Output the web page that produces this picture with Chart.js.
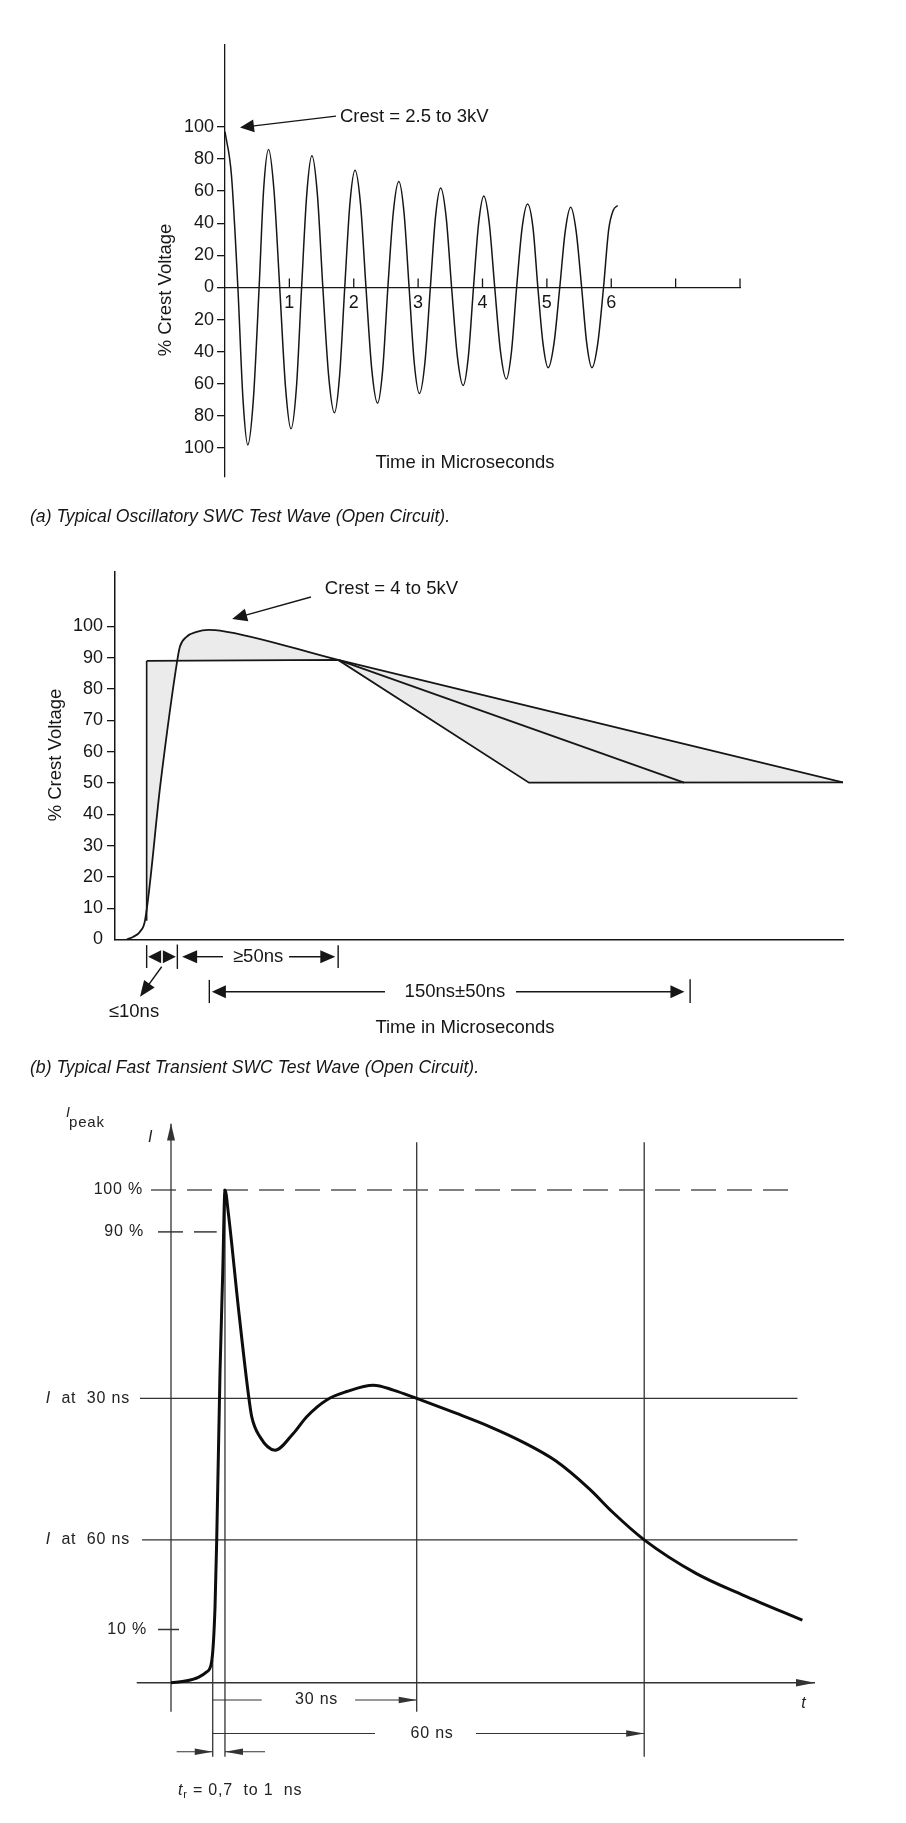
<!DOCTYPE html>
<html><head><meta charset="utf-8">
<script src="https://cdn.jsdelivr.net/npm/chart.js@4.4.1/dist/chart.umd.min.js"></script>
<style>
html,body{margin:0;padding:0;background:#fff;width:906px;height:1823px;overflow:hidden}
canvas{position:absolute;left:0}
#c1{top:0}#c2{top:540px}#c3{top:1080px}
</style></head><body>
<canvas id="c1" width="906" height="540"></canvas>
<canvas id="c2" width="906" height="540"></canvas>
<canvas id="c3" width="906" height="743"></canvas>
<script>
// ================= DATA =================
// (a) Typical oscillatory SWC test wave: time (µs) vs % crest voltage
const oscTime = [0, 0.10, 0.20, 0.28, 0.354, 0.44, 0.53, 0.60, 0.677, 0.76, 0.85, 0.94, 1.025, 1.11, 1.19, 1.27, 1.35, 1.435, 1.52, 1.61, 1.70, 1.78, 1.86, 1.94, 2.02, 2.105, 2.19, 2.28, 2.37, 2.45, 2.53, 2.615, 2.70, 2.78, 2.86, 2.94, 3.02, 3.105, 3.19, 3.27, 3.35, 3.435, 3.52, 3.61, 3.70, 3.78, 3.86, 3.94, 4.02, 4.105, 4.19, 4.28, 4.37, 4.45, 4.53, 4.615, 4.70, 4.785, 4.86, 4.94, 5.02, 5.11, 5.20, 5.285, 5.37, 5.455, 5.54, 5.62, 5.70, 5.79, 5.88, 5.96, 6.03, 6.10];
const oscVoltage = [97, 70, 0, -70, -98, -70, 0, 61, 86, 61, 0, -62, -88, -62, 0, 58, 82, 58, 0, -55, -78, -55, 0, 52, 73, 52, 0, -51, -72, -51, 0, 47, 66, 47, 0, -47, -66, -47, 0, 44, 62, 44, 0, -43, -61, -43, 0, 40, 57, 40, 0, -40, -57, -40, 0, 37, 52, 37, 0, -35, -50, -35, 0, 35, 50, 35, 0, -35, -50, -35, 0, 36, 48, 51];
const oscXTicks = [1, 2, 3, 4, 5, 6, 7, 8];
const oscXTickLabels = ['1', '2', '3', '4', '5', '6', '', ''];
const oscYTicks = [-100, -80, -60, -40, -20, 0, 20, 40, 60, 80, 100];

// (b) Typical fast transient SWC test wave: time (ns) vs % crest voltage
const fastWaveTime    = [3.7, 5.8, 7.9, 9.5, 14.4, 19.7, 20.5, 22.6, 25.8, 29.5, 33.2, 70.5, 230];
const fastWaveVoltage = [0, 0.9, 2.5, 6.2, 50, 89.3, 93.5, 96.7, 98.3, 98.9, 98.7, 89.3, 50.2];
const fastEnvTime     = [10, 70.5, 130.8, 230];
const fastEnvVoltage  = [89, 89.3, 50.1, 50.2];
const fastMidTime     = [70.5, 179.8];
const fastMidVoltage  = [89.3, 50.1];
const fastEdgeTime    = [10, 10];
const fastEdgeVoltage = [6, 89];
const fastYTicks = [0, 10, 20, 30, 40, 50, 60, 70, 80, 90, 100];

// (c) ESD current waveform: time (ns) vs % of I peak
const espTime    = [0, 2.24, 3.9, 5.1, 5.81, 6.29, 6.53, 7.0, 7.39, 7.71, 8.19, 9.61, 11.04, 11.53, 12.71, 14.86, 17.47, 19.39, 22.24, 25.1, 28.9, 31.76, 35.1, 40.7, 45.5, 50.2, 55.0, 59.8, 63.1, 67.6, 75.0, 81.7, 90.2];
const espCurrent = [0, 0.4, 1.1, 2.2, 4.3, 15.4, 29.0, 62.9, 83.2, 100, 95.3, 76.3, 58.7, 54.0, 49.9, 47.2, 50.6, 54.0, 57.4, 59.1, 60.4, 59.4, 57.7, 54.7, 52.0, 48.9, 45.0, 39.3, 34.6, 29.0, 22.2, 17.8, 12.7];
const espLevelValues = [100, 91.5, 57.7, 29.0, 10.8];
const espLevelLabels = [[{t:'100 %'}], [{t:'90 %'}], [{t:'I', i:true}, {t:'  at  30 ns'}], [{t:'I', i:true}, {t:'  at  60 ns'}], [{t:'10 %'}]];
const espMarkerTimes = [5.96, 7.71, 35.1, 67.6]; // 10 % point, peak, 30 ns, 60 ns

// ================= STYLE / HELPERS =================
const FONT = '"Liberation Sans", "Helvetica Neue", Helvetica, Arial, sans-serif';
const INK = '#161616';
const GREY = '#333';
Chart.defaults.font.family = FONT;
Chart.defaults.color = INK;

const xy = (xs, ys) => xs.map((x, i) => ({x, y: ys[i]}));

function txt(ctx, s, px, py, o = {}) {
  ctx.font = `${o.italic ? 'italic ' : ''}${o.size || 18.5}px ${FONT}`;
  ctx.textAlign = o.align || 'left';
  ctx.textBaseline = 'middle';
  ctx.fillStyle = o.color || INK;
  ctx.fillText(s, px, py);
}
function rich(ctx, parts, px, py, align, size, color) {
  ctx.textAlign = 'left'; ctx.textBaseline = 'middle'; ctx.fillStyle = color;
  const w = parts.map(p => { ctx.font = `${p.i ? 'italic ' : ''}${p.s || size}px ${FONT}`; return ctx.measureText(p.t).width; });
  const tot = w.reduce((a, b) => a + b, 0);
  let cx = align === 'right' ? px - tot : align === 'center' ? px - tot / 2 : px;
  parts.forEach((p, k) => { ctx.font = `${p.i ? 'italic ' : ''}${p.s || size}px ${FONT}`; ctx.fillText(p.t, cx, py + (p.dy || 0)); cx += w[k]; });
}
function head(ctx, tx, ty, fx, fy, len, half) {
  const a = Math.atan2(ty - fy, tx - fx), c = Math.cos(a), s = Math.sin(a);
  ctx.beginPath();
  ctx.moveTo(tx, ty);
  ctx.lineTo(tx - len * c + half * s, ty - len * s - half * c);
  ctx.lineTo(tx - len * c - half * s, ty - len * s + half * c);
  ctx.closePath(); ctx.fill();
}
function arrow(ctx, fx, fy, tx, ty, len, half) {
  const a = Math.atan2(ty - fy, tx - fx);
  ctx.beginPath(); ctx.moveTo(fx, fy); ctx.lineTo(tx - len * 0.7 * Math.cos(a), ty - len * 0.7 * Math.sin(a)); ctx.stroke();
  head(ctx, tx, ty, fx, fy, len, half);
}
function line(ctx, x1, y1, x2, y2) { ctx.beginPath(); ctx.moveTo(x1, y1); ctx.lineTo(x2, y2); ctx.stroke(); }

const baseOpts = {responsive: false, animation: false, devicePixelRatio: 1, events: []};
const noLegend = {legend: {display: false}, tooltip: {enabled: false}};

// ================= CHART (a) =================
const annA = {arrowFrom: [1.724, 106.7], arrowTip: [0.233, 99.6], textAt: [1.786, 106.0], label: 'Crest = 2.5 to 3kV',
  yTitle: {x: 166, y: 290}, xTitle: {x: 465, y: 463}, caption: {x: 30, y: 517}};
new Chart(document.getElementById('c1'), {
  type: 'line',
  data: {datasets: [{data: xy(oscTime, oscVoltage), borderColor: INK, borderWidth: 1.5, pointRadius: 0, cubicInterpolationMode: 'monotone', fill: false}]},
  options: {...baseOpts,
    layout: {padding: {left: 0, top: 45, right: 166, bottom: 63}},
    plugins: noLegend,
    scales: {
      x: {type: 'linear', min: 0, max: 8, position: {y: 0},
        afterBuildTicks: s => { s.ticks = oscXTicks.map(v => ({value: v})); },
        ticks: {callback: (v, i) => oscXTickLabels[i], font: {size: 18}, color: INK, padding: 5, maxRotation: 0, autoSkip: false},
        grid: {drawOnChartArea: false, drawTicks: false},
        border: {display: true, color: INK, width: 1.3}},
      y: {type: 'linear', min: -118, max: 151, position: 'left',
        afterFit: s => { s.width = 225; },
        afterBuildTicks: s => { s.ticks = oscYTicks.map(v => ({value: v})); },
        ticks: {callback: v => String(Math.abs(v)), font: {size: 18}, color: INK, padding: 3, autoSkip: false},
        grid: {drawOnChartArea: false, drawTicks: true, tickLength: 8, color: INK, lineWidth: 1.3},
        border: {display: true, color: INK, width: 1.3}}
    }
  },
  plugins: [{id: 'annA', afterDraw(chart) {
    const {ctx, scales: {x, y}} = chart;
    ctx.save();
    ctx.strokeStyle = INK; ctx.fillStyle = INK; ctx.lineWidth = 1.3;
    oscXTicks.forEach(v => line(ctx, x.getPixelForValue(v), y.getPixelForValue(0), x.getPixelForValue(v), y.getPixelForValue(0) - 9));
    arrow(ctx, x.getPixelForValue(annA.arrowFrom[0]), y.getPixelForValue(annA.arrowFrom[1]), x.getPixelForValue(annA.arrowTip[0]), y.getPixelForValue(annA.arrowTip[1]), 14, 6.5);
    txt(ctx, annA.label, x.getPixelForValue(annA.textAt[0]), y.getPixelForValue(annA.textAt[1]));
    txt(ctx, 'Time in Microseconds', annA.xTitle.x, annA.xTitle.y, {align: 'center'});
    ctx.save(); ctx.translate(annA.yTitle.x, annA.yTitle.y); ctx.rotate(-Math.PI / 2);
    txt(ctx, '% Crest Voltage', 0, 0, {align: 'center'}); ctx.restore();
    txt(ctx, '(a) Typical Oscillatory SWC Test Wave (Open Circuit).', annA.caption.x, annA.caption.y, {italic: true, size: 17.6});
    ctx.restore();
  }}]
});

// ================= CHART (b) =================
const annB = {arrowFrom: [61.9, 109.4], arrowTip: [37.0, 102.4], textAt: [66.3, 112.0], label: 'Crest = 4 to 5kV',
  bars: [[10.0, -1.8, -9.1], [19.7, -1.6, -9.4], [70.5, -1.8, -9.1], [29.8, -12.9, -20.3], [181.7, -12.7, -20.3]],
  dimY: -5.5, tenMid: 14.75, fiftyLeft: [21.2, 34.1], fiftyText: 45.2, fiftyRight: [55.0, 69.6],
  pointerFrom: [14.75, -8.7], pointerTip: [7.9, -18.3], tenText: [6.0, -23.1],
  longY: -16.7, longLeft: [85.3, 30.6], longText: 107.4, longRight: [126.7, 179.9],
  yTitle: {x: 56, y: 215}, xTitle: {x: 465, y: 488}, caption: {x: 30, y: 528}};
new Chart(document.getElementById('c2'), {
  type: 'line',
  data: {datasets: [
    {data: xy(fastWaveTime, fastWaveVoltage), borderColor: INK, borderWidth: 1.8, pointRadius: 0, cubicInterpolationMode: 'monotone', fill: {target: 1}, backgroundColor: '#ebebeb'},
    {data: xy(fastEnvTime, fastEnvVoltage), borderColor: INK, borderWidth: 1.8, pointRadius: 0, tension: 0, fill: false},
    {data: xy(fastMidTime, fastMidVoltage), borderColor: INK, borderWidth: 1.8, pointRadius: 0, tension: 0, fill: false},
    {data: xy(fastEdgeTime, fastEdgeVoltage), borderColor: INK, borderWidth: 1.6, pointRadius: 0, tension: 0, fill: false}
  ]},
  options: {...baseOpts,
    layout: {padding: {left: 0, top: 32, right: 63, bottom: 140.5}},
    plugins: {...noLegend, filler: {propagate: false, drawTime: 'beforeDatasetsDraw'}},
    scales: {
      x: {type: 'linear', min: 0, max: 230, position: {y: 0},
        ticks: {display: false}, grid: {drawOnChartArea: false, drawTicks: false},
        border: {display: true, color: INK, width: 1.5}},
      y: {type: 'linear', min: 0, max: 117.4, position: 'left',
        afterFit: s => { s.width = 115; },
        afterBuildTicks: s => { s.ticks = fastYTicks.map(v => ({value: v})); },
        ticks: {font: {size: 18}, color: INK, padding: 4, autoSkip: false},
        grid: {drawOnChartArea: false, drawTicks: true, tickLength: 8, lineWidth: 1.3,
          tickColor: c => (c.tick && c.tick.value === 0 ? 'rgba(0,0,0,0)' : INK)},
        border: {display: true, color: INK, width: 1.5}}
    }
  },
  plugins: [{id: 'annB', afterDraw(chart) {
    const {ctx, scales: {x, y}} = chart;
    const X = v => x.getPixelForValue(v), Y = v => y.getPixelForValue(v);
    ctx.save();
    ctx.strokeStyle = INK; ctx.fillStyle = INK; ctx.lineWidth = 1.4;
    arrow(ctx, X(annB.arrowFrom[0]), Y(annB.arrowFrom[1]), X(annB.arrowTip[0]), Y(annB.arrowTip[1]), 15, 6.5);
    txt(ctx, annB.label, X(annB.textAt[0]), Y(annB.textAt[1]));
    annB.bars.forEach(b => line(ctx, X(b[0]), Y(b[1]), X(b[0]), Y(b[2])));
    const dy = Y(annB.dimY);
    head(ctx, X(annB.bars[0][0]) + 1.5, dy, X(annB.tenMid), dy, 13, 6.5);
    head(ctx, X(annB.bars[1][0]) - 1.5, dy, X(annB.tenMid), dy, 13, 6.5);
    arrow(ctx, X(annB.fiftyLeft[1]), dy, X(annB.fiftyLeft[0]), dy, 15, 6.5);
    txt(ctx, '\u226550ns', X(annB.fiftyText), dy, {align: 'center'});
    arrow(ctx, X(annB.fiftyRight[0]), dy, X(annB.fiftyRight[1]), dy, 15, 6.5);
    arrow(ctx, X(annB.pointerFrom[0]), Y(annB.pointerFrom[1]), X(annB.pointerTip[0]), Y(annB.pointerTip[1]), 16, 6.5);
    txt(ctx, '\u226410ns', X(annB.tenText[0]), Y(annB.tenText[1]), {align: 'center'});
    const ly = Y(annB.longY);
    arrow(ctx, X(annB.longLeft[0]), ly, X(annB.longLeft[1]), ly, 14, 6.5);
    txt(ctx, '150ns\u00b150ns', X(annB.longText), ly, {align: 'center'});
    arrow(ctx, X(annB.longRight[0]), ly, X(annB.longRight[1]), ly, 14, 6.5);
    txt(ctx, 'Time in Microseconds', annB.xTitle.x, annB.xTitle.y, {align: 'center'});
    ctx.save(); ctx.translate(annB.yTitle.x, annB.yTitle.y); ctx.rotate(-Math.PI / 2);
    txt(ctx, '% Crest Voltage', 0, 0, {align: 'center'}); ctx.restore();
    txt(ctx, '(b) Typical Fast Transient SWC Test Wave (Open Circuit).', annB.caption.x, annB.caption.y, {italic: true, size: 17.6});
    ctx.restore();
  }}]
});

// ================= CHART (c) =================
const guideStyle = {borderColor: GREY, borderWidth: 1.3, pointRadius: 0, tension: 0, fill: false, spanGaps: false};
const espGuides = [
  {...guideStyle, data: xy([-4.9, 92], [0, 0])},                                   // time axis
  {...guideStyle, data: xy([0, 0], [-5.9, 113.5])},                                // current axis
  {...guideStyle, borderColor: '#555', borderWidth: 1.6, borderDash: [25, 11], data: xy([-2.86, 89.7], [espLevelValues[0], espLevelValues[0]])},
  {...guideStyle, borderColor: '#555', borderWidth: 1.6, borderDash: [25, 11], data: xy([-1.86, 6.53], [espLevelValues[1], espLevelValues[1]])},
  {...guideStyle, data: xy([-4.43, 89.5], [espLevelValues[2], espLevelValues[2]])},
  {...guideStyle, data: xy([-4.14, 89.5], [espLevelValues[3], espLevelValues[3]])},
  {...guideStyle, data: xy([-1.86, 1.14], [espLevelValues[4], espLevelValues[4]])},
  {...guideStyle, data: xy([espMarkerTimes[0], espMarkerTimes[0]], [4.6, -15])},
  {...guideStyle, data: xy([espMarkerTimes[1], espMarkerTimes[1]], [espLevelValues[0], -15])},
  {...guideStyle, data: xy([espMarkerTimes[2], espMarkerTimes[2]], [109.7, -5.9])},
  {...guideStyle, data: xy([espMarkerTimes[3], espMarkerTimes[3]], [109.7, -15])},
  {...guideStyle, borderWidth: 1.1, data: xy([espMarkerTimes[0], 12.96, 20, 26.3, espMarkerTimes[2]], [-3.5, -3.5, null, -3.5, -3.5])},
  {...guideStyle, borderWidth: 1.1, data: xy([espMarkerTimes[0], 29.14, 36, 43.57, espMarkerTimes[3]], [-10.3, -10.3, null, -10.3, -10.3])},
  {...guideStyle, borderWidth: 1.1, data: xy([0.81, espMarkerTimes[0], 6.8, espMarkerTimes[1], 13.43], [-14, -14, null, -14, -14])}
];
const annC = {levelLabelRight: [-4.0, -3.86, -5.86, -5.86, -3.43], t30: 20.8, t60: 37.3, y30: -3.5, y60: -10.3, yTr: -14,
  tLabel: [90.4, -4.2], iLabel: [-2.9, 110.7], iPeak: [-15, 115.6], peakSub: [-14.57, 113.6], trText: [1.0, -21.8]};
new Chart(document.getElementById('c3'), {
  type: 'line',
  data: {datasets: [
    {data: xy(espTime, espCurrent), borderColor: '#0d0d0d', borderWidth: 3, pointRadius: 0, cubicInterpolationMode: 'monotone', fill: false},
    ...espGuides
  ]},
  options: {...baseOpts,
    layout: {padding: {left: 136, top: 43.5, right: 91, bottom: 56.5}},
    plugins: noLegend,
    scales: {
      x: {type: 'linear', min: -5, max: 92, display: false},
      y: {type: 'linear', min: -17, max: 113.5, display: false}
    }
  },
  plugins: [{id: 'annC', afterDraw(chart) {
    const {ctx, scales: {x, y}} = chart;
    const X = v => x.getPixelForValue(v), Y = v => y.getPixelForValue(v);
    const C = '#222';
    ctx.save();
    ctx.fillStyle = GREY;
    head(ctx, X(92), Y(0), X(80), Y(0), 19, 3.8);
    head(ctx, X(0), Y(113.5), X(0), Y(100), 17, 4);
    head(ctx, X(espMarkerTimes[2]), Y(annC.y30), X(20), Y(annC.y30), 18, 3.2);
    head(ctx, X(espMarkerTimes[3]), Y(annC.y60), X(40), Y(annC.y60), 18, 3.2);
    head(ctx, X(espMarkerTimes[0]), Y(annC.yTr), X(0), Y(annC.yTr), 18, 3.2);
    head(ctx, X(espMarkerTimes[1]), Y(annC.yTr), X(14), Y(annC.yTr), 18, 3.2);
    ctx.letterSpacing = '0.8px';
    espLevelLabels.forEach((parts, k) => rich(ctx, parts, X(annC.levelLabelRight[k]), Y(espLevelValues[k]), 'right', 16, C));
    rich(ctx, [{t: '30 ns'}], X(annC.t30), Y(annC.y30), 'center', 16, C);
    rich(ctx, [{t: '60 ns'}], X(annC.t60), Y(annC.y60), 'center', 16, C);
    rich(ctx, [{t: 't', i: true}], X(annC.tLabel[0]), Y(annC.tLabel[1]), 'center', 16, C);
    rich(ctx, [{t: 'I', i: true}], X(annC.iLabel[0]), Y(annC.iLabel[1]), 'center', 16, C);
    rich(ctx, [{t: 'I', i: true}], X(annC.iPeak[0]), Y(annC.iPeak[1]), 'left', 14, C);
    rich(ctx, [{t: 'peak'}], X(annC.peakSub[0]), Y(annC.peakSub[1]), 'left', 15, C);
    rich(ctx, [{t: 't', i: true}, {t: 'r', s: 11, dy: 5}, {t: ' = 0,7  to 1  ns'}], X(annC.trText[0]), Y(annC.trText[1]), 'left', 16, C);
    ctx.restore();
  }}]
});
</script>
</body></html>
